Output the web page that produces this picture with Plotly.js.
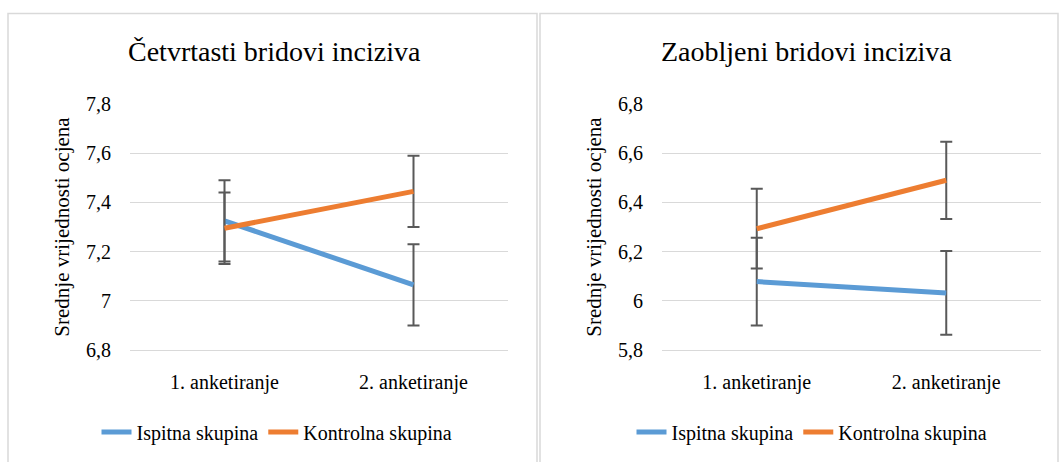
<!DOCTYPE html>
<html>
<head>
<meta charset="utf-8">
<script src="https://cdn.plot.ly/plotly-3.0.1.min.js"></script>
<style>
html,body{margin:0;padding:0;background:#fff;}
#chart{width:1059px;height:462px;}
svg text{font-family:'Liberation Serif' !important;}
</style>
</head>
<body>
<div id="chart"></div>
<script>
// ---- data ----
const categories = ['1. anketiranje', '2. anketiranje'];
const seriesNames = ['Ispitna skupina', 'Kontrolna skupina'];

const leftTitle = 'Četvrtasti bridovi inciziva';
const leftIspitna = [7.325, 7.065];
const leftIspitnaErr = [0.165, 0.165];
const leftKontrolna = [7.295, 7.445];
const leftKontrolnaErr = [0.145, 0.145];

const rightTitle = 'Zaobljeni bridovi inciziva';
const rightIspitna = [6.078, 6.032];
const rightIspitnaErr = [0.178, 0.170];
const rightKontrolna = [6.293, 6.490];
const rightKontrolnaErr = [0.162, 0.157];

const yTitle = 'Srednje vrijednosti ocjena';

// ---- styling ----
const W = 1059, H = 462;
const fontFam = 'Liberation Serif';
const blue = '#5B9BD5', orange = '#ED7D31', errCol = '#595959', grid = '#D9D9D9';
const px = v => v / W;
const py = v => 1 - v / H;

function tr(x, y, err, name, color, xa, ya, legend) {
  return {
    type: 'scatter', mode: 'lines', x: x, y: y, name: name,
    xaxis: xa, yaxis: ya, legend: legend,
    line: {color: color, width: 5},
    error_y: {type: 'data', array: err, visible: true, color: errCol, thickness: 2, width: 6},
    hoverinfo: 'skip'
  };
}

const data = [
  tr(categories, leftIspitna, leftIspitnaErr, seriesNames[0], blue, 'x', 'y', 'legend'),
  tr(categories, leftKontrolna, leftKontrolnaErr, seriesNames[1], orange, 'x', 'y', 'legend'),
  tr(categories, rightIspitna, rightIspitnaErr, seriesNames[0], blue, 'x2', 'y2', 'legend2'),
  tr(categories, rightKontrolna, rightKontrolnaErr, seriesNames[1], orange, 'x2', 'y2', 'legend2')
];

function xax(domain, anchor) {
  return {
    domain: domain, anchor: anchor, type: 'category', range: [-0.5, 1.5],
    showgrid: false, zeroline: false, showline: true, linecolor: grid, linewidth: 1, ticks: '',
    ticklabelstandoff: 14,
    tickfont: {family: fontFam, size: 20, color: '#000'}, fixedrange: true
  };
}
function yax(domain, anchor, range) {
  return {
    domain: domain, anchor: anchor, range: range, dtick: 0.2, tick0: 0,
    showgrid: true, gridcolor: grid, gridwidth: 1, zeroline: false, showline: false, ticks: '',
    ticklabelstandoff: 18,
    tickfont: {family: fontFam, size: 20, color: '#000'},
    title: {text: yTitle, font: {family: fontFam, size: 21, color: '#000'}, standoff: 10},
    fixedrange: true
  };
}

const yDom = [py(350), py(104)];

const layout = {
  width: W, height: H,
  margin: {l: 0, r: 0, t: 0, b: 0},
  paper_bgcolor: '#fff', plot_bgcolor: '#fff',
  separators: ', ',
  font: {family: fontFam, color: '#000'},
  xaxis: xax([px(130), px(508)], 'y'),
  yaxis: yax(yDom, 'x', [6.8, 7.8]),
  xaxis2: xax([px(662), px(1041)], 'y2'),
  yaxis2: yax(yDom, 'x2', [5.8, 6.8]),
  legend: {orientation: 'h', x: px(277), xanchor: 'center', y: py(432), yanchor: 'middle',
           font: {family: fontFam, size: 20, color: '#000'}, bgcolor: 'rgba(0,0,0,0)'},
  legend2: {orientation: 'h', x: px(812), xanchor: 'center', y: py(432), yanchor: 'middle',
            font: {family: fontFam, size: 20, color: '#000'}, bgcolor: 'rgba(0,0,0,0)'},
  annotations: [
    {text: leftTitle, xref: 'paper', yref: 'paper', x: px(274), y: py(52), xanchor: 'center', yanchor: 'middle',
     showarrow: false, font: {family: fontFam, size: 28, color: '#000'}},
    {text: rightTitle, xref: 'paper', yref: 'paper', x: px(806), y: py(52), xanchor: 'center', yanchor: 'middle',
     showarrow: false, font: {family: fontFam, size: 28, color: '#000'}}
  ],
  shapes: [
    {type: 'rect', xref: 'paper', yref: 'paper', x0: px(8), x1: px(537), y0: -0.05, y1: py(13.5),
     line: {color: grid, width: 1.5}, layer: 'below'},
    {type: 'rect', xref: 'paper', yref: 'paper', x0: px(540), x1: px(1058), y0: -0.05, y1: py(13.5),
     line: {color: grid, width: 1.5}, layer: 'below'}
  ],
  showlegend: true
};

Plotly.newPlot('chart', data, layout, {displayModeBar: false, staticPlot: true});
</script>
</body>
</html>
